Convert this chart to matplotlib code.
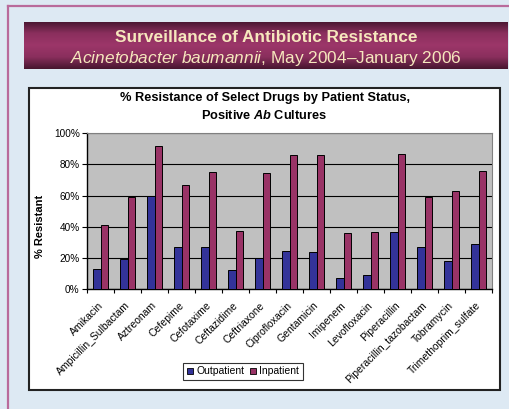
import matplotlib
matplotlib.use("Agg")
import matplotlib.pyplot as plt
import matplotlib.transforms as mtransforms
import numpy as np
from matplotlib.patches import Rectangle, Patch
from matplotlib.colors import LinearSegmentedColormap

plt.rcParams['font.family'] = ['Liberation Sans', 'DejaVu Sans']
plt.rcParams['mathtext.fontset'] = 'custom'
plt.rcParams['mathtext.rm'] = 'Liberation Sans'
plt.rcParams['mathtext.it'] = 'Liberation Sans:italic'
plt.rcParams['mathtext.bf'] = 'Liberation Sans:bold'
plt.rcParams['mathtext.bfit'] = 'Liberation Sans:bold:italic'

drugs = ["Amikacin", "Ampicillin_Sulbactam", "Aztreonam", "Cefepime", "Cefotaxime",
         "Ceftazidime", "Ceftriaxone", "Ciprofloxacin", "Gentamicin", "Imipenem",
         "Levofloxacin", "Piperacillin", "Piperacillin_tazobactam", "Tobramycin",
         "Trimethoprim_sulfate"]
outpatient = [12.8, 19.6, 59.7, 27.3, 27.3, 12.6, 20.2, 24.5, 23.9, 7.4, 9.4, 36.5, 27.3, 18.1, 29.0]
inpatient = [41.1, 58.9, 91.7, 66.5, 75.2, 37.3, 74.2, 85.9, 85.9, 35.8, 36.5, 86.6, 58.9, 62.9, 75.5]
yticks = [0, 20, 40, 60, 80, 100]

W, H = 510, 409
fig = plt.figure(figsize=(W / 100, H / 100), dpi=100)
fig.patch.set_facecolor("#dde9f3")

def fx(x):
    return x / W

def fy(y):
    return 1 - y / H

# pink frame lines
fig.add_artist(plt.Line2D([fx(8), fx(8)], [fy(6), 0], color="#b96b9b", lw=1.6, zorder=-2))
fig.add_artist(plt.Line2D([fx(8), 1], [fy(6), fy(6)], color="#b96b9b", lw=1.6, zorder=-2))

# header banner with vertical gradient
bax = fig.add_axes([fx(24), fy(69), fx(508 - 24), (69 - 22) / H])
cmap = LinearSegmentedColormap.from_list("banner", ["#47162f", "#8a2f5d", "#9c3669", "#8a2f5d", "#47162f"])
grad = np.linspace(0, 1, 100).reshape(-1, 1)
bax.imshow(grad, aspect="auto", cmap=cmap, extent=[0, 1, 0, 1])
bax.set_axis_off()
bax.text(0.5, 0.68, "Surveillance of Antibiotic Resistance", ha="center", va="center",
         color="#f6e7bd", fontsize=12.4, fontweight="bold", transform=bax.transAxes)
bax.text(0.5, 0.22, r"$\mathit{Acinetobacter\ baumannii}$, May 2004–January 2006", ha="center",
         va="center", color="#f6e7bd", fontsize=12.4, transform=bax.transAxes)

# white chart box
fig.add_artist(Rectangle((fx(29), fy(390)), fx(500 - 29), (390 - 88) / H,
                         facecolor="white", edgecolor="#222222", lw=1.5,
                         transform=fig.transFigure, zorder=-1))

ax = fig.add_axes([fx(87.3), fy(289.3), fx(492 - 87.3), (289.3 - 133) / H])
ax.set_facecolor("#c0c0c0")
x = np.arange(len(drugs))
bw = 1 / 3.5
ax.bar(x - bw / 2, outpatient, bw, color="#333399", edgecolor="black", lw=0.7, zorder=3)
ax.bar(x + bw / 2, inpatient, bw, color="#993366", edgecolor="black", lw=0.7, zorder=3)
ax.set_xlim(-0.5, len(drugs) - 0.5)
ax.set_ylim(0, 100)
ax.set_yticks(yticks)
ax.set_yticklabels([f"{v}%" for v in yticks], fontsize=7.2)
ax.yaxis.grid(True, color="black", lw=0.8)
ax.set_axisbelow(True)
ax.set_xticks(x)
ax.set_xticklabels(drugs, rotation=45, ha="right", va="top", rotation_mode="anchor", fontsize=7.5)
ax.tick_params(axis="x", length=0, pad=8)
shift = mtransforms.ScaledTranslation(-3 / 100, 0, fig.dpi_scale_trans)
for lab in ax.get_xticklabels():
    lab.set_transform(lab.get_transform() + shift)
ax.set_xticks(np.arange(-0.5, len(drugs)), minor=True)
ax.tick_params(axis="x", which="minor", length=3, direction="out", width=0.8)
ax.tick_params(axis="y", length=3.5, width=0.8, pad=2)
for s in ["top", "right"]:
    ax.spines[s].set_color("#808080")
for s in ["left", "bottom"]:
    ax.spines[s].set_color("black")
    ax.spines[s].set_linewidth(1)

fig.text(fx(40), fy(226), "% Resistant", rotation=90, ha="center", va="center",
         fontsize=8, fontweight="bold")

fig.text(fx(264.5), fy(98.3), "% Resistance of Select Drugs by Patient Status,", ha="center",
         va="center", fontsize=9.2, fontweight="bold")
fig.text(fx(264.5), fy(115.7), r"Positive $\mathbfit{Ab}$ Cultures", ha="center",
         va="center", fontsize=9.2, fontweight="bold")

handles = [Patch(facecolor="#333399", edgecolor="black", lw=0.6, label="Outpatient"),
           Patch(facecolor="#993366", edgecolor="black", lw=0.6, label="Inpatient")]
leg = fig.legend(handles=handles, loc="center", bbox_to_anchor=(fx(243), fy(371.5)), ncol=2,
                 fontsize=7.5, frameon=True, fancybox=False, handlelength=0.6,
                 handleheight=0.6, handletextpad=0.3, columnspacing=0.5,
                 borderpad=0.35, borderaxespad=0)
leg.get_frame().set_edgecolor("black")
leg.get_frame().set_linewidth(0.8)

fig.savefig("out.png", dpi=100, facecolor=fig.get_facecolor())
